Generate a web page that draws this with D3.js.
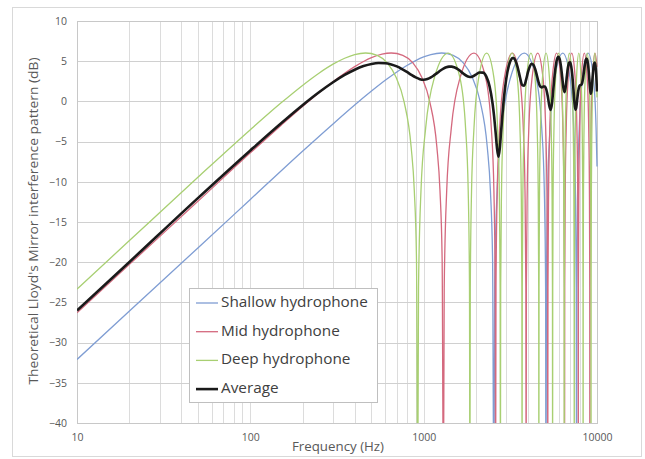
<!DOCTYPE html>
<html><head><meta charset="utf-8">
<script src="https://cdn.jsdelivr.net/npm/d3@7"></script>
<style>body{margin:0;background:#fff}svg{display:block}text{font-family:"Open Sans","Liberation Sans",sans-serif}</style>
</head><body><svg id="c" width="645" height="459"></svg>
<script>
const seriesNames = ["Shallow hydrophone","Mid hydrophone","Deep hydrophone","Average"];
const seriesColors = ["#7f9dd3","#d4697e","#a8cf72","#1a1a1a"];
const xTicks = [10,100,1000,10000];
const yTicks = [-40,-35,-30,-25,-20,-15,-10,-5,0,5,10];

const shallow = [[10,-32.1],[20,-26.1],[50,-18.2],[100,-12.2],[200,-6.2],[300,-2.8],[400,-0.45],[500,1.28],[600,2.62],[700,3.66],[800,4.46],[900,5.08],[1000,5.53],[1100,5.83],[1270,6.02],[1480,5.72],[1693,4.8],[1905,3.0],[2117,0.0],[2328,-5.7],[2427,-11.1],[2498,-19.6],[2540,-50],
[2568,-23.1],[2653,-11.1],[2822,-3.3],[3175,3.0],[3810,6.0],[4445,3.0],[4798,-3.3],[4967,-11.1],[5052,-23.1],[5080,-50],
[5108,-23.1],[5193,-11.1],[5362,-3.3],[5715,3.0],[6350,6.0],[6985,3.0],[7338,-3.3],[7507,-11.1],[7592,-23.1],[7620,-50],
[7648,-23.1],[7733,-11.1],[7902,-3.3],[8255,3.0],[8890,6.0],[9525,3.0],[9878,-3.3],[10000,-8.1]];

const mid = [[10,-26.3],[20,-20.3],[50,-12.4],[100,-6.4],[150,-3.0],[200,-0.64],[250,1.11],[300,2.45],[350,3.5],[400,4.33],[450,4.96],[500,5.44],[575,5.88],[650,6.02],[758,5.72],[867,4.8],[975,3.0],[1083,0.0],[1192,-5.7],[1242,-11.1],[1278,-19.6],[1300,-50],
[1314,-23.1],[1358,-11.1],[1444,-3.3],[1625,3.0],[1950,6.0],[2275,3.0],[2456,-3.3],[2542,-11.1],[2586,-23.1],[2600,-50],
[2614,-23.1],[2658,-11.1],[2744,-3.3],[2925,3.0],[3250,6.0],[3575,3.0],[3756,-3.3],[3842,-11.1],[3886,-23.1],[3900,-50],
[3914,-23.1],[3958,-11.1],[4044,-3.3],[4225,3.0],[4550,6.0],[4875,3.0],[5056,-3.3],[5142,-11.1],[5186,-23.1],[5200,-50],
[5214,-23.1],[5258,-11.1],[5344,-3.3],[5525,3.0],[5850,6.0],[6175,3.0],[6356,-3.3],[6442,-11.1],[6486,-23.1],[6500,-50],
[6514,-23.1],[6558,-11.1],[6644,-3.3],[6825,3.0],[7150,6.0],[7475,3.0],[7656,-3.3],[7742,-11.1],[7786,-23.1],[7800,-50],
[7814,-23.1],[7858,-11.1],[7944,-3.3],[8125,3.0],[8450,6.0],[8775,3.0],[8956,-3.3],[9042,-11.1],[9086,-23.1],[9100,-50],
[9114,-23.1],[9158,-11.1],[9244,-3.3],[9425,3.0],[9750,6.0],[10000,4.3]];

const deep = [[10,-23.35],[20,-17.34],[50,-9.41],[100,-3.52],[150,-0.21],[200,1.99],[250,3.54],[300,4.63],[350,5.37],[400,5.83],[462,6.02],[539,5.72],[616,4.8],[693,3.0],[770,0.0],[847,-5.7],[883,-11.1],[909,-19.6],[924,-50],
[934,-23.1],[965,-11.1],[1027,-3.3],[1155,3.0],[1386,6.0],[1617,3.0],[1745,-3.3],[1807,-11.1],[1838,-23.1],[1848,-50],
[1858,-23.1],[1889,-11.1],[1951,-3.3],[2079,3.0],[2310,6.0],[2541,3.0],[2669,-3.3],[2731,-11.1],[2762,-23.1],[2772,-50],
[2782,-23.1],[2813,-11.1],[2875,-3.3],[3003,3.0],[3234,6.0],[3465,3.0],[3593,-3.3],[3655,-11.1],[3686,-23.1],[3696,-50],
[3706,-23.1],[3737,-11.1],[3799,-3.3],[3927,3.0],[4158,6.0],[4389,3.0],[4517,-3.3],[4579,-11.1],[4610,-23.1],[4620,-50],
[4630,-23.1],[4661,-11.1],[4723,-3.3],[4851,3.0],[5082,6.0],[5313,3.0],[5441,-3.3],[5503,-11.1],[5534,-23.1],[5544,-50],
[5554,-23.1],[5585,-11.1],[5647,-3.3],[5775,3.0],[6006,6.0],[6237,3.0],[6365,-3.3],[6427,-11.1],[6458,-23.1],[6468,-50],
[6478,-23.1],[6509,-11.1],[6571,-3.3],[6699,3.0],[6930,6.0],[7161,3.0],[7289,-3.3],[7351,-11.1],[7382,-23.1],[7392,-50],
[7402,-23.1],[7433,-11.1],[7495,-3.3],[7623,3.0],[7854,6.0],[8085,3.0],[8213,-3.3],[8275,-11.1],[8306,-23.1],[8316,-50],
[8326,-23.1],[8357,-11.1],[8419,-3.3],[8547,3.0],[8778,6.0],[9009,3.0],[9137,-3.3],[9199,-11.1],[9230,-23.1],[9240,-50],
[9250,-23.1],[9281,-11.1],[9343,-3.3],[9471,3.0],[9702,6.0],[9933,3.0],[10000,0.5]];

const average = [[10,-26.0],[20,-20.0],[50,-12.0],[100,-6.1],[150,-2.75],[200,-0.48],[250,1.16],[300,2.38],[350,3.29],[400,3.94],[450,4.39],[500,4.66],[550,4.77],[600,4.75],[650,4.6],[700,4.35],[750,4.02],[800,3.66],[850,3.29],[900,2.98],[950,2.77],[1000,2.7],[1050,2.78],[1100,2.98],[1150,3.26],[1200,3.55],[1250,3.84],[1300,4.07],[1350,4.24],[1400,4.32],[1450,4.33],[1500,4.25],[1600,3.9],[1700,3.43],[1800,3.09],[1850,3.04],[1900,3.07],[2000,3.33],[2100,3.59],[2200,3.58],[2300,3.08],[2400,1.87],[2500,-0.32],[2550,-1.9],[2600,-3.82],[2650,-5.84],[2700,-6.88],[2750,-5.8],[2800,-3.63],[2900,0.3],[3000,2.89],[3100,4.45],[3200,5.23],[3250,5.38],[3300,5.38],[3400,4.96],[3500,4.08],[3600,2.94],[3700,2.03],[3800,1.96],[3900,2.7],[4000,3.66],[4100,4.38],[4200,4.68],[4300,4.55],[4400,4.02],[4500,3.22],[4600,2.4],[4700,1.86],[4800,1.75],[4900,1.86],[5000,1.86],[5100,1.48],[5200,0.64],[5300,-0.47],[5400,-1.07],[5500,-0.25],[5600,1.56],[5700,3.32],[5800,4.62],[5900,5.37],[6000,5.56],[6100,5.2],[6200,4.33],[6300,3.02],[6400,1.69],[6500,1.15],[6600,1.87],[6700,3.13],[6800,4.21],[6900,4.81],[7000,4.87],[7100,4.36],[7200,3.29],[7300,1.73],[7400,0.0],[7500,-1.04],[7600,-0.7],[7700,0.37],[7800,1.32],[7900,1.85],[8000,2.02],[8100,2.05],[8200,2.24],[8300,2.81],[8400,3.66],[8500,4.5],[8600,5.1],[8700,5.32],[8800,5.09],[8900,4.37],[9000,3.21],[9100,1.83],[9200,0.96],[9300,1.34],[9400,2.58],[9500,3.82],[9600,4.61],[9700,4.82],[9800,4.4],[9900,3.25],[10000,1.23]];

const allSeries = [shallow, mid, deep, average];

const svg = d3.select("#c");
const L=77,R=597,T=21,B=423;
const x = d3.scaleLog().domain([10,10000]).range([L,R]);
const y = d3.scaleLinear().domain([-40,10]).range([B,T]);

svg.append("rect").attr("x",0).attr("y",0).attr("width",645).attr("height",459).attr("fill","#fff");
svg.append("rect").attr("x",12.5).attr("y",7.5).attr("width",629).attr("height",449).attr("fill","none").attr("stroke","#d9d9d9");

const vgrid = [];
[10,100,1000].forEach(d=>{for(let m=1;m<10;m++) vgrid.push(d*m);});
vgrid.push(10000);
svg.append("g").selectAll("line").data(vgrid).join("line")
  .attr("x1",d=>Math.round(x(d))+0.5).attr("x2",d=>Math.round(x(d))+0.5)
  .attr("y1",T).attr("y2",B).attr("stroke","#dcdcdc").attr("stroke-width",1);
svg.append("g").selectAll("line").data(yTicks).join("line")
  .attr("x1",L).attr("x2",R).attr("y1",d=>Math.round(y(d))+0.5).attr("y2",d=>Math.round(y(d))+0.5)
  .attr("stroke","#d0d0d0").attr("stroke-width",1);
svg.append("rect").attr("x",L+0.5).attr("y",T+0.5).attr("width",R-L).attr("height",B-T)
  .attr("fill","none").attr("stroke","#c8c8c8");

const yAxis = svg.append("g").attr("transform",`translate(${L},0)`)
  .call(d3.axisLeft(y).tickValues(yTicks).tickSize(0).tickPadding(10).tickFormat(d3.format("d")));
const xAxis = svg.append("g").attr("transform",`translate(0,${B})`)
  .call(d3.axisBottom(x).tickValues(xTicks).tickSize(0).tickPadding(11).tickFormat(d3.format("d")));
[yAxis,xAxis].forEach(g=>{g.select(".domain").remove();
  g.selectAll("text").attr("fill","#595959").style("font-size","10.5px").style("font-family",'"Open Sans",sans-serif');});

svg.append("text").attr("transform","translate(35,221) rotate(-90)").attr("text-anchor","middle")
  .attr("dominant-baseline","middle").attr("fill","#595959").style("font-size","13px")
  .attr("textLength",327).attr("lengthAdjust","spacingAndGlyphs")
  .text("Theoretical Lloyd's Mirror interference pattern (dB)");
svg.append("text").attr("x",338).attr("y",447).attr("text-anchor","middle")
  .attr("dominant-baseline","middle").attr("fill","#595959").style("font-size","13.3px")
  .text("Frequency (Hz)");

svg.append("clipPath").attr("id","clip").append("rect").attr("x",L).attr("y",T-3).attr("width",R-L+1).attr("height",B-T+3);
const line = d3.line().x(d=>x(d[0])).y(d=>y(d[1])).curve(d3.curveMonotoneX);
const gL = svg.append("g").attr("clip-path","url(#clip)");
allSeries.forEach((s,i)=>{
  gL.append("path").datum(s).attr("d",line).attr("fill","none")
    .attr("stroke",seriesColors[i]).attr("stroke-width",i===3?2.6:1.3).attr("stroke-linejoin","round");
});

const lg = svg.append("g");
lg.append("rect").attr("x",189.5).attr("y",288.5).attr("width",188).attr("height",114)
  .attr("fill","#fff").attr("stroke","#bfbfbf");
seriesNames.forEach((n,i)=>{
  const yy = 303 + i*28.7;
  lg.append("line").attr("x1",196).attr("x2",218).attr("y1",yy).attr("y2",yy)
    .attr("stroke",seriesColors[i]).attr("stroke-width",i===3?2.6:1.3);
  lg.append("text").attr("x",221).attr("y",yy).attr("dominant-baseline","middle")
    .attr("fill","#404040").style("font-size","15.3px").text(n);
});
</script></body></html>
